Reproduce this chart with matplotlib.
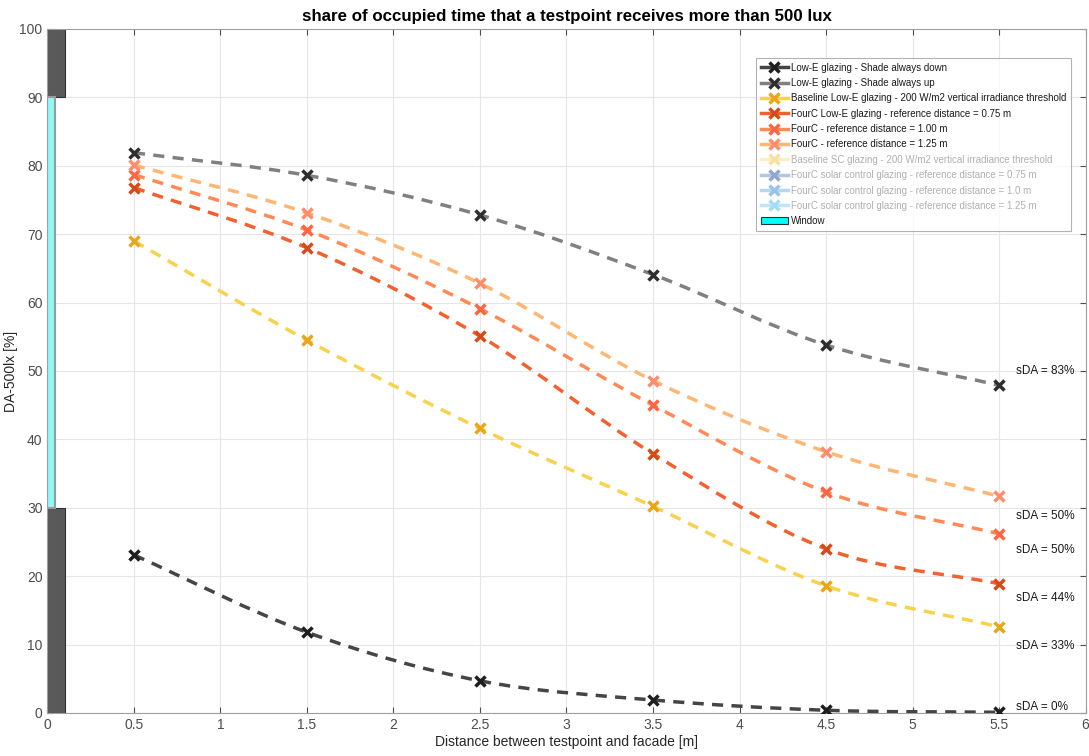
import numpy as np
import matplotlib
matplotlib.use("Agg")
import matplotlib.pyplot as plt
from matplotlib.path import Path
from matplotlib.patches import PathPatch, Rectangle
from matplotlib.lines import Line2D

plt.rcParams['font.family'] = ['Liberation Sans', 'DejaVu Sans']

# ---------------- data ----------------
distance = [0.5, 1.5, 2.5, 3.5, 4.5, 5.5]
shade_down = [23.1, 11.8, 4.7, 1.9, 0.4, 0.1]
shade_up = [81.9, 78.6, 72.8, 64.1, 53.8, 47.9]
baseline_lowe = [69.0, 54.5, 41.6, 30.2, 18.6, 12.6]
fourc_075 = [76.8, 68.0, 55.1, 37.9, 24.0, 18.9]
fourc_100 = [78.7, 70.6, 59.1, 45.0, 32.3, 26.2]
fourc_125 = [80.1, 73.1, 62.8, 48.6, 38.2, 31.7]

labels = [
    "Low-E glazing - Shade always down",
    "Low-E glazing - Shade always up",
    "Baseline Low-E glazing - 200 W/m2 vertical irradiance threshold",
    "FourC Low-E glazing - reference distance = 0.75 m",
    "FourC - reference distance = 1.00 m",
    "FourC - reference distance = 1.25 m",
]
hidden_labels = [
    "Baseline SC glazing - 200 W/m2 vertical irradiance threshold",
    "FourC solar control glazing - reference distance = 0.75 m",
    "FourC solar control glazing - reference distance = 1.0 m",
    "FourC solar control glazing - reference distance = 1.25 m",
]
sda_texts = ["sDA = 83%", "sDA = 50%", "sDA = 50%", "sDA = 44%", "sDA = 33%", "sDA = 0%"]
sda_y = [50.0, 28.8, 23.8, 16.8, 9.8, 0.9]

window_band = (30, 90)
wall_low = (0, 30)
wall_high = (90, 100)

# ---------------- styles ----------------
line_colors = ["#454545", "#808080", "#F9D24C", "#F2612F", "#FF8A55", "#FFB673"]
marker_colors = ["#1e1e1e", "#2e2e2e", "#E9A61A", "#D54A18", "#FF6542", "#FF8C6C"]
hidden_line_colors = ["#FCEFC5", "#B7C6DF", "#B8D6EF", "#BFE6F6"]
hidden_marker_colors = ["#F8E1A0", "#8FA6CF", "#98C4EC", "#A3DDF5"]


def smooth_path(x, y):
    x = np.asarray(x, float)
    y = np.asarray(y, float)
    n = len(x)
    verts = [(x[0], y[0])]
    codes = [Path.MOVETO]
    m = np.zeros(n)
    for i in range(n):
        if i == 0:
            m[i] = (y[1] - y[0]) / (x[1] - x[0])
        elif i == n - 1:
            m[i] = (y[-1] - y[-2]) / (x[-1] - x[-2])
        else:
            m[i] = (y[i + 1] - y[i - 1]) / (x[i + 1] - x[i - 1])
    for i in range(n - 1):
        h = x[i + 1] - x[i]
        c1 = (x[i] + h / 3, y[i] + m[i] * h / 3)
        c2 = (x[i + 1] - h / 3, y[i + 1] - m[i + 1] * h / 3)
        verts += [c1, c2, (x[i + 1], y[i + 1])]
        codes += [Path.CURVE4] * 3
    return Path(verts, codes)


fig = plt.figure(figsize=(10.89, 7.56), dpi=100)
ax = fig.add_axes([0.0436, 0.0569, 0.9532, 0.9048])

ax.set_xlim(0, 6)
ax.set_ylim(0, 100)
ax.set_xticks(np.arange(0, 6.01, 0.5))
ax.set_xticklabels(["0", "0.5", "1", "1.5", "2", "2.5", "3", "3.5", "4", "4.5", "5", "5.5", "6"])
ax.set_yticks(np.arange(0, 101, 10))
ax.grid(True, color="#e6e6e6", linewidth=0.8)
ax.set_axisbelow(True)
for s in ax.spines.values():
    s.set_color("#a0a0a0")
    s.set_linewidth(0.8)
ax.tick_params(colors="#4d4d4d", labelsize=10, direction="in", length=4, top=True, right=True)

# window / wall
ax.add_patch(Rectangle((0, wall_low[0]), 0.1, wall_low[1] - wall_low[0],
                       facecolor="#595959", edgecolor="#333333", linewidth=0.8, zorder=2))
ax.add_patch(Rectangle((0, wall_high[0]), 0.1, wall_high[1] - wall_high[0],
                       facecolor="#595959", edgecolor="#333333", linewidth=0.8, zorder=2))
ax.add_patch(Rectangle((0, window_band[0]), 0.045, window_band[1] - window_band[0],
                       facecolor="#8FF8F8", edgecolor="#9a9a9a", linewidth=1.5, zorder=2))

series = [shade_down, shade_up, baseline_lowe, fourc_075, fourc_100, fourc_125]
handles = []
for vals, lc, mc, lab in zip(series, line_colors, marker_colors, labels):
    patch = PathPatch(smooth_path(distance, vals), facecolor="none", edgecolor=lc,
                      linewidth=2.5, linestyle=(0, (3.2, 2.4)), zorder=3)
    ax.add_patch(patch)
    ax.plot(distance, vals, linestyle="none", marker="x", markersize=7,
            markeredgewidth=2.5, color=mc, zorder=4)
    h = Line2D([], [], color=lc, linewidth=2.5, linestyle="-", marker="x",
               markersize=7, markeredgewidth=2.5, markeredgecolor=mc, label=lab)
    handles.append(h)
for lc, mc, lab in zip(hidden_line_colors, hidden_marker_colors, hidden_labels):
    h = Line2D([], [], color=lc, linewidth=2.5, linestyle="-", marker="x",
               markersize=7, markeredgewidth=2.5, markeredgecolor=mc, label=lab)
    handles.append(h)
handles.append(Rectangle((0, 0), 1, 1, facecolor="#00FFFF", edgecolor="#333333",
                         linewidth=0.8, label="Window"))

for t, yv in zip(sda_texts, sda_y):
    ax.text(5.6, yv, t, fontsize=8.5, color="#1a1a1a", va="center", ha="left", zorder=5)

leg = ax.legend(handles=handles, loc="upper left", bbox_to_anchor=(0.683, 0.957),
                fontsize=7.0, frameon=True, fancybox=False, edgecolor="#a0a0a0",
                handlelength=2.8, handletextpad=0.3, labelspacing=0.55,
                borderpad=0.45, borderaxespad=0)
leg.get_frame().set_linewidth(0.8)
for i, txt in enumerate(leg.get_texts()):
    if 6 <= i <= 9:
        txt.set_color("#b0b0b0")
    else:
        txt.set_color("#1a1a1a")

ax.set_title("share of occupied time that a testpoint receives more than 500 lux",
             fontsize=12.2, fontweight="bold", color="#000000", pad=6)
ax.set_xlabel("Distance between testpoint and facade [m]", fontsize=10, color="#262626", labelpad=2)
ax.set_ylabel("DA-500lx [%]", fontsize=10, color="#262626", labelpad=1)

fig.savefig("out.png", dpi=100)
